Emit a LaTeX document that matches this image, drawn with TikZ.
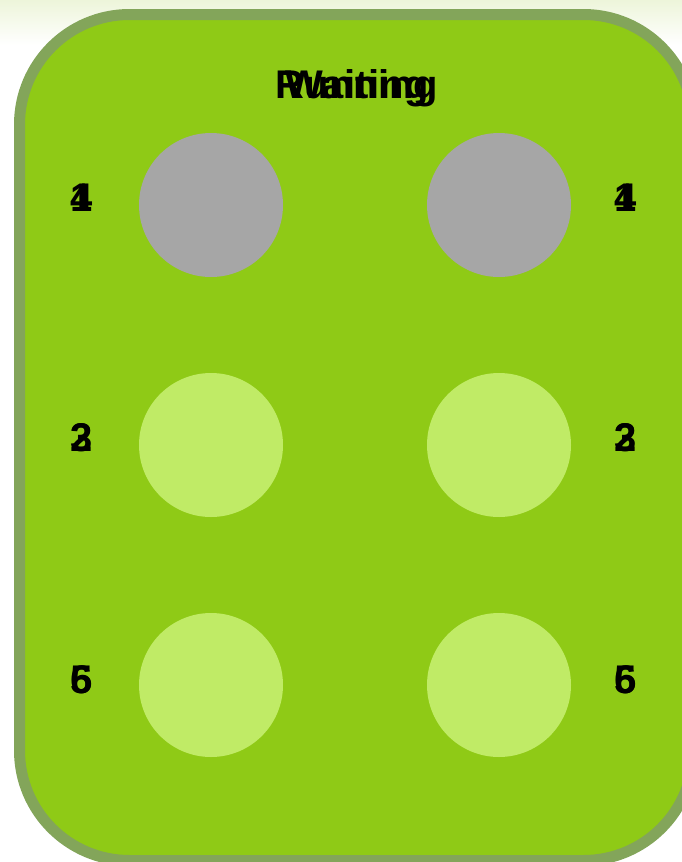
\documentclass[tikz,border=0pt]{standalone}
\usepackage{fontspec}
\setmainfont{Liberation Sans}
\definecolor{bgtop}{HTML}{EDF5DA}
\definecolor{fillg}{HTML}{8FCA16}
\definecolor{rimg}{HTML}{83A55A}
\definecolor{slotgray}{HTML}{A6A6A6}
\definecolor{slotlight}{HTML}{C0EB66}
\tikzset{
  slotoff/.style={circle, fill=slotgray, minimum size=144pt, inner sep=0pt},
  sloton/.style={circle, fill=slotlight, minimum size=144pt, inner sep=0pt},
  numlbl/.style={font=\fontsize{40}{40}\selectfont\bfseries, text=black, inner sep=0pt},
  titlelbl/.style={font=\fontsize{40}{40}\selectfont\bfseries, text=black, inner sep=0pt}
}
\begin{document}
\begin{tikzpicture}[x=1pt,y=-1pt]
\useasboundingbox (0,0) rectangle (682,862);
\fill[white] (0,0) rectangle (682,862);
\shade[top color=bgtop, bottom color=white] (0,0) rectangle (682,45);
\clip (0,0) rectangle (682,862);
\draw[rimg, line width=11pt, fill=fillg, rounded corners=110pt] (19.5,14.5) rectangle (693.5,860.5);
% circles
\node[slotoff] (c1) at (211,205) {};
\node[slotoff] (c4) at (499,205) {};
\node[sloton] (c2) at (211,445) {};
\node[sloton] (c3) at (499,445) {};
\node[sloton] (c5) at (211,685) {};
\node[sloton] (c6) at (499,685) {};
% title
\node[titlelbl] (t1) at (357,88) {Running};
\node[titlelbl] (t2) at (357,88) {Waiting};
% labels
\node[numlbl] (l1a) at (82,198) {1};
\node[numlbl] (l1b) at (82,198) {4};
\node[numlbl] (r1a) at (626,198) {1};
\node[numlbl] (r1b) at (626,198) {4};
\node[numlbl] (l2a) at (82,438) {2};
\node[numlbl] (l2b) at (82,438) {3};
\node[numlbl] (r2a) at (626,438) {2};
\node[numlbl] (r2b) at (626,438) {3};
\node[numlbl] (l3a) at (82,680) {5};
\node[numlbl] (l3b) at (82,680) {6};
\node[numlbl] (r3a) at (626,680) {5};
\node[numlbl] (r3b) at (626,680) {6};
\end{tikzpicture}
\end{document}
